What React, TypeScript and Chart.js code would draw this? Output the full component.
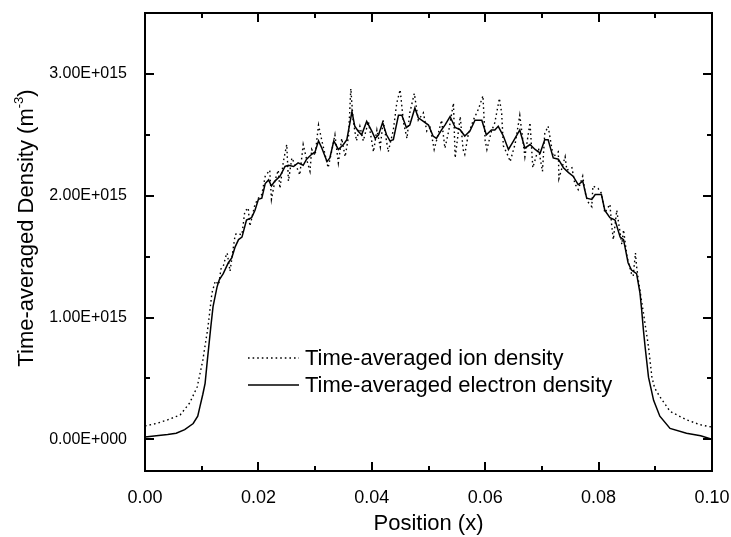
import { useEffect, useRef } from "react";
import { Chart, registerables } from "chart.js";

Chart.register(...registerables);

// Position (x) and time-averaged electron density (units of 1E+015 m^-3)
const electronX = [
  0, 0.002, 0.004, 0.0055, 0.007, 0.0085, 0.0093, 0.0097, 0.0102, 0.0106,
  0.011, 0.0116, 0.012, 0.0127, 0.0131, 0.0138, 0.0147, 0.0153, 0.0159, 0.0165,
  0.0171, 0.0179, 0.0188, 0.0194, 0.02, 0.0206, 0.0212, 0.0218, 0.0223, 0.0229,
  0.0238, 0.0247, 0.0253, 0.0262, 0.027, 0.0279, 0.0285, 0.0294, 0.03, 0.0306,
  0.0312, 0.0321, 0.0326, 0.0333, 0.0341, 0.035, 0.0356, 0.0365, 0.037, 0.0376,
  0.0382, 0.0391, 0.04, 0.0406, 0.0412, 0.0419, 0.0426, 0.0432, 0.0438, 0.0447,
  0.0453, 0.0461, 0.0467, 0.0476, 0.0482, 0.0491, 0.05, 0.0508, 0.0514, 0.0523,
  0.0529, 0.0538, 0.0547, 0.0556, 0.0564, 0.0573, 0.0582, 0.0594, 0.0602, 0.0611,
  0.0617, 0.0623, 0.0632, 0.0641, 0.065, 0.0661, 0.067, 0.0679, 0.0688, 0.0697,
  0.0705, 0.0711, 0.072, 0.0729, 0.0738, 0.0747, 0.0755, 0.0764, 0.0772, 0.0779,
  0.0788, 0.0794, 0.0805, 0.0811, 0.082, 0.0829, 0.0838, 0.0844, 0.0852, 0.0858,
  0.0867, 0.087, 0.0873, 0.0876, 0.0879, 0.0882, 0.0888, 0.0897, 0.0908, 0.0926,
  0.0955, 0.098, 0.1,
];
const electronY = [
  0.02, 0.03, 0.04, 0.05, 0.08, 0.13, 0.19, 0.27, 0.37, 0.46,
  0.65, 0.92, 1.09, 1.25, 1.31, 1.36, 1.45, 1.49, 1.58, 1.64,
  1.66, 1.8, 1.82, 1.88, 1.97, 1.98, 2.1, 2.13, 2.08, 2.12,
  2.16, 2.24, 2.25, 2.24, 2.27, 2.25, 2.3, 2.34, 2.36, 2.45,
  2.39, 2.28, 2.31, 2.45, 2.38, 2.42, 2.46, 2.69, 2.57, 2.53,
  2.5, 2.61, 2.53, 2.47, 2.5, 2.6, 2.5, 2.45, 2.46, 2.66,
  2.66, 2.56, 2.58, 2.72, 2.64, 2.61, 2.58, 2.49, 2.47, 2.54,
  2.58, 2.65, 2.56, 2.54, 2.49, 2.53, 2.62, 2.62, 2.5, 2.54,
  2.54, 2.57, 2.49, 2.38, 2.45, 2.54, 2.39, 2.42, 2.38, 2.35,
  2.46, 2.46, 2.31, 2.3, 2.23, 2.19, 2.16, 2.09, 2.12, 1.98,
  1.97, 2.01, 2.01, 1.88, 1.82, 1.8, 1.66, 1.64, 1.45, 1.39,
  1.36, 1.28, 1.2, 1.06, 0.9, 0.76, 0.51, 0.32, 0.19, 0.09,
  0.05, 0.03, 0.0,
];

// Position (x) and time-averaged ion density (units of 1E+015 m^-3)
const ionX = [
  0, 0.002, 0.004, 0.0062, 0.0079, 0.0092, 0.0102, 0.0111, 0.0118, 0.0124,
  0.013, 0.0134, 0.0138, 0.0143, 0.0145, 0.015, 0.0159, 0.0162, 0.0171, 0.0176,
  0.0182, 0.0185, 0.0194, 0.02, 0.0206, 0.0212, 0.022, 0.0223, 0.0229, 0.0235,
  0.0238, 0.0244, 0.025, 0.0253, 0.0259, 0.0265, 0.027, 0.0273, 0.0279, 0.0285,
  0.0291, 0.0294, 0.03, 0.0306, 0.0312, 0.0317, 0.0323, 0.0329, 0.0335, 0.0341,
  0.0347, 0.0353, 0.0359, 0.0363, 0.0367, 0.0373, 0.0379, 0.0385, 0.0394, 0.0403,
  0.0409, 0.0415, 0.042, 0.0429, 0.0438, 0.0444, 0.045, 0.0456, 0.0462, 0.0467,
  0.0475, 0.0482, 0.0491, 0.0497, 0.0503, 0.051, 0.0514, 0.0523, 0.0529, 0.0536,
  0.0544, 0.0547, 0.0556, 0.0561, 0.0564, 0.057, 0.0579, 0.0588, 0.0596, 0.06,
  0.0603, 0.0611, 0.0617, 0.0625, 0.0629, 0.0632, 0.0641, 0.0644, 0.0653, 0.0661,
  0.067, 0.0679, 0.0684, 0.0694, 0.0701, 0.0705, 0.0711, 0.072, 0.0729, 0.073,
  0.0741, 0.0744, 0.0753, 0.0758, 0.0764, 0.0772, 0.0776, 0.0781, 0.0788, 0.079,
  0.0799, 0.0805, 0.0811, 0.082, 0.0823, 0.0826, 0.0832, 0.0841, 0.0844, 0.085,
  0.0858, 0.0861, 0.0865, 0.0867, 0.087, 0.0873, 0.0879, 0.0888, 0.0894, 0.0899,
  0.0908, 0.0926, 0.0955, 0.0979, 0.1,
];
const ionY = [
  0.11, 0.13, 0.16, 0.2, 0.3, 0.43, 0.65, 0.92, 1.2, 1.3,
  1.27, 1.4, 1.42, 1.51, 1.53, 1.38, 1.68, 1.69, 1.68, 1.87,
  1.9, 1.75, 1.93, 1.98, 2.01, 2.16, 2.21, 1.97, 2.12, 2.21,
  2.06, 2.28, 2.42, 2.12, 2.31, 2.25, 2.21, 2.17, 2.42, 2.3,
  2.2, 2.38, 2.33, 2.58, 2.45, 2.35, 2.23, 2.36, 2.5, 2.27,
  2.47, 2.32, 2.49, 2.88, 2.62, 2.45, 2.57, 2.45, 2.61, 2.36,
  2.54, 2.4, 2.62, 2.36, 2.54, 2.76, 2.87, 2.6, 2.47, 2.68,
  2.84, 2.62, 2.68, 2.53, 2.56, 2.38, 2.45, 2.62, 2.39, 2.54,
  2.76, 2.31, 2.65, 2.38, 2.34, 2.5, 2.62, 2.71, 2.82, 2.45,
  2.38, 2.53, 2.6, 2.8, 2.68, 2.41, 2.32, 2.28, 2.43, 2.66,
  2.32, 2.6, 2.23, 2.39, 2.2, 2.51, 2.57, 2.32, 2.36, 2.14,
  2.32, 2.21, 2.23, 2.1, 2.05, 2.16, 2.03, 1.95, 1.91, 2.08,
  2.06, 2.02, 1.86, 1.93, 1.76, 1.64, 1.88, 1.6, 1.72, 1.5,
  1.36, 1.34, 1.53, 1.42, 1.31, 1.22, 1.04, 0.76, 0.51, 0.42,
  0.35, 0.23, 0.16, 0.12, 0.1,
];

const seriesLabels = ["Time-averaged ion density", "Time-averaged electron density"];
const xMajorTicks = [0, 0.02, 0.04, 0.06, 0.08, 0.1];
const xTickLabels = ["0.00", "0.02", "0.04", "0.06", "0.08", "0.10"];
const xMinorTicks = [0.01, 0.03, 0.05, 0.07, 0.09];
const yMajorTicks = [0, 1, 2, 3];
const yTickLabels = ["0.00E+000", "1.00E+015", "2.00E+015", "3.00E+015"];
const yMinorTicks = [0.5, 1.5, 2.5];
const xTitle = "Position (x)";
const yTitleMain = "Time-averaged Density (m";
const yTitleSup = "-3";
const yTitleEnd = ")";

const FONT = "'Liberation Sans', Arial, Helvetica, sans-serif";

export default function App() {
  const canvasRef = useRef<HTMLCanvasElement | null>(null);

  useEffect(() => {
    const canvas = canvasRef.current;
    if (!canvas) return;

    const framePlugin = {
      id: "frameTicks",
      afterDraw(chart: any) {
        const { ctx, chartArea, scales } = chart;
        const { left, right, top, bottom } = chartArea;
        const xs = scales.x;
        const ys = scales.y;
        ctx.save();
        ctx.strokeStyle = "#000";
        ctx.lineWidth = 2;
        ctx.strokeRect(left, top, right - left, bottom - top);
        const major = 9;
        const minor = 5;
        ctx.beginPath();
        xMajorTicks.forEach((v) => {
          const p = Math.round(xs.getPixelForValue(v));
          ctx.moveTo(p, bottom);
          ctx.lineTo(p, bottom - major);
          ctx.moveTo(p, top);
          ctx.lineTo(p, top + major);
        });
        xMinorTicks.forEach((v) => {
          const p = Math.round(xs.getPixelForValue(v));
          ctx.moveTo(p, bottom);
          ctx.lineTo(p, bottom - minor);
          ctx.moveTo(p, top);
          ctx.lineTo(p, top + minor);
        });
        yMajorTicks.forEach((v) => {
          const p = Math.round(ys.getPixelForValue(v));
          ctx.moveTo(left, p);
          ctx.lineTo(left + major, p);
          ctx.moveTo(right, p);
          ctx.lineTo(right - major, p);
        });
        yMinorTicks.forEach((v) => {
          const p = Math.round(ys.getPixelForValue(v));
          ctx.moveTo(left, p);
          ctx.lineTo(left + minor, p);
          ctx.moveTo(right, p);
          ctx.lineTo(right - minor, p);
        });
        ctx.stroke();

        // Axis titles
        ctx.fillStyle = "#000";
        ctx.font = `22px ${FONT}`;
        ctx.textAlign = "center";
        ctx.textBaseline = "alphabetic";
        ctx.fillText(xTitle, (left + right) / 2, 530);

        ctx.save();
        const cy = (top + bottom) / 2 - 14;
        ctx.translate(33, cy);
        ctx.rotate(-Math.PI / 2);
        ctx.textAlign = "left";
        ctx.font = `22px ${FONT}`;
        const w1 = ctx.measureText(yTitleMain).width;
        const w3 = ctx.measureText(yTitleEnd).width;
        ctx.font = `13px ${FONT}`;
        const w2 = ctx.measureText(yTitleSup).width;
        const total = w1 + w2 + w3;
        let sx = -total / 2;
        ctx.font = `22px ${FONT}`;
        ctx.fillText(yTitleMain, sx, 0);
        sx += w1;
        ctx.font = `13px ${FONT}`;
        ctx.fillText(yTitleSup, sx, -10);
        sx += w2;
        ctx.font = `22px ${FONT}`;
        ctx.fillText(yTitleEnd, sx, 0);
        ctx.restore();

        // Legend
        const ds = chart.data.datasets;
        const rows = [358, 385];
        ctx.font = `22px ${FONT}`;
        ctx.textAlign = "left";
        ctx.textBaseline = "middle";
        ds.forEach((d: any, i: number) => {
          const y = rows[i];
          ctx.save();
          ctx.strokeStyle = d.borderColor;
          ctx.lineWidth = d.borderWidth;
          ctx.setLineDash(d.borderDash || []);
          ctx.beginPath();
          ctx.moveTo(248, y);
          ctx.lineTo(299, y);
          ctx.stroke();
          ctx.restore();
          ctx.fillText(d.label, 305, y + 1);
        });
        ctx.restore();
      },
    };

    const zeroPadding = (scale: any) => {
      scale.paddingTop = 0;
      scale.paddingBottom = 0;
      scale.paddingLeft = 0;
      scale.paddingRight = 0;
    };

    const chart = new Chart(canvas, {
      type: "line",
      data: {
        datasets: [
          {
            label: seriesLabels[0],
            data: ionX.map((x, i) => ({ x, y: ionY[i] })),
            borderColor: "#000",
            borderWidth: 1.4,
            borderDash: [1.6, 3],
            pointRadius: 0,
            tension: 0,
            fill: false,
          },
          {
            label: seriesLabels[1],
            data: electronX.map((x, i) => ({ x, y: electronY[i] })),
            borderColor: "#000",
            borderWidth: 1.5,
            pointRadius: 0,
            tension: 0,
            fill: false,
          },
        ],
      },
      options: {
        animation: false,
        responsive: false,
        maintainAspectRatio: false,
        devicePixelRatio: 1,
        layout: { padding: { top: 13, right: 19, left: 0, bottom: 0 } },
        plugins: {
          legend: { display: false },
          tooltip: { enabled: false },
          title: { display: false },
        },
        scales: {
          x: {
            type: "linear",
            min: 0,
            max: 0.1,
            grid: { display: false },
            border: { display: false },
            afterBuildTicks: (scale: any) => {
              scale.ticks = xMajorTicks.map((v) => ({ value: v }));
            },
            afterFit: (scale: any) => {
              scale.height = 66;
              zeroPadding(scale);
            },
            ticks: {
              autoSkip: false,
              maxRotation: 0,
              padding: 8,
              color: "#000",
              font: { family: FONT, size: 18 },
              callback: (_v: any, i: number) => xTickLabels[i],
            },
          },
          y: {
            type: "linear",
            min: -0.26,
            max: 3.5,
            grid: { display: false },
            border: { display: false },
            afterBuildTicks: (scale: any) => {
              scale.ticks = yMajorTicks.map((v) => ({ value: v }));
            },
            afterFit: (scale: any) => {
              scale.width = 145;
              zeroPadding(scale);
            },
            ticks: {
              autoSkip: false,
              padding: 10,
              color: "#000",
              font: { family: FONT, size: 16 },
              callback: (_v: any, i: number) => yTickLabels[i],
            },
          },
        },
      },
      plugins: [framePlugin],
    } as any);

    return () => {
      chart.destroy();
    };
  }, []);

  return (
    <div style={{ position: "fixed", left: 0, top: 0, width: 731, height: 537, background: "#fff" }}>
      <canvas ref={canvasRef} width={731} height={537} style={{ display: "block" }} />
    </div>
  );
}
